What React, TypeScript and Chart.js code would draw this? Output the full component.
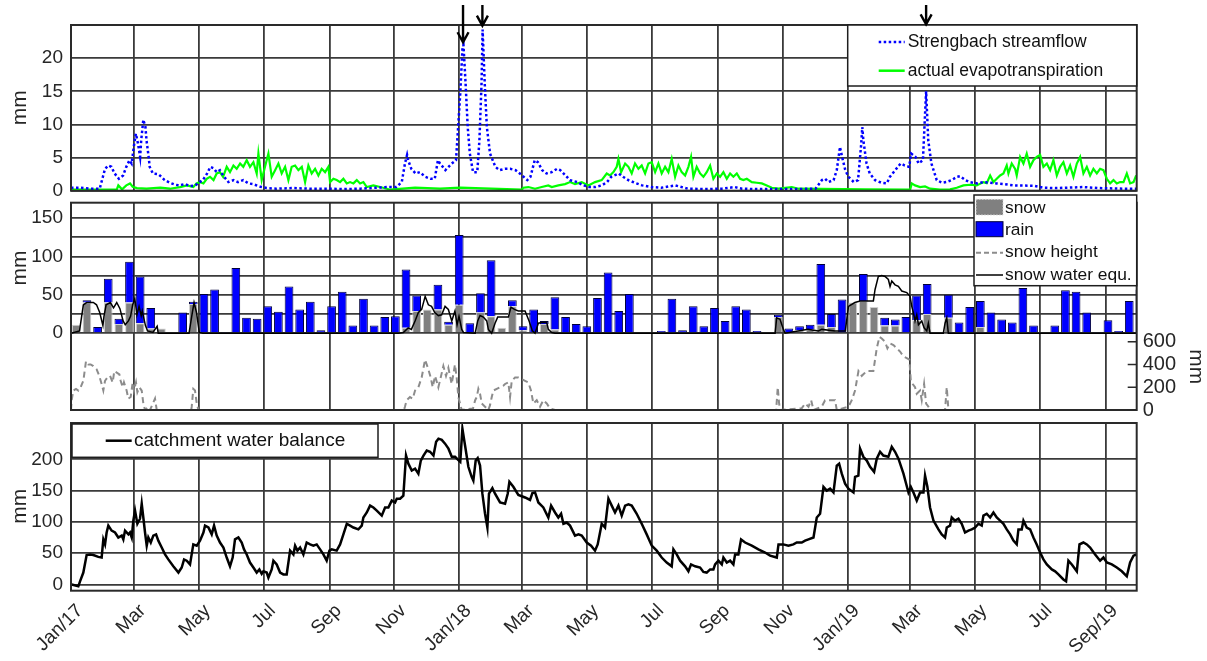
import React, { useEffect, useRef } from 'react';
import { Chart, registerables } from 'chart.js';

Chart.register(...registerables);

const FONT = '"Liberation Sans", Arial, Helvetica, sans-serif';
const GRID = '#3a3a3a';
const TEXT = '#262626';
const X_MAX = 1002; // days after 1 Jan 2017

// ---- x axis ticks (every second month) ----
const tickMonths: [number, number][] = [
  [2017, 0], [2017, 2], [2017, 4], [2017, 6], [2017, 8], [2017, 10],
  [2018, 0], [2018, 2], [2018, 4], [2018, 6], [2018, 8], [2018, 10],
  [2019, 0], [2019, 2], [2019, 4], [2019, 6], [2019, 8],
];
const tickLabels = ['Jan/17', 'Mar', 'May', 'Jul', 'Sep', 'Nov', 'Jan/18', 'Mar', 'May', 'Jul', 'Sep', 'Nov', 'Jan/19', 'Mar', 'May', 'Jul', 'Sep/19'];
const T0 = Date.UTC(2017, 0, 1);
const tickDays = tickMonths.map(([y, m]) => (Date.UTC(y, m, 1) - T0) / 86400000);

// ---- top panel: [day, mm] ----
const streamflow: [number, number][] = [
  [0, 0.45], [8, 0.45], [18, 0.3], [27, 0.3], [30, 2.1], [32, 3.3], [35, 3.8], [38, 3.6], [41, 2.6], [45, 1.8], [49, 2.3], [52, 3.6], [55, 4.6], [57, 4.1], [59, 6.6], [61, 8.6], [63, 7.1], [65, 5.1], [66, 7.6], [68, 10.7], [70, 9.6], [71, 7.6], [73, 5.1], [74, 3.6], [77, 2.6], [82, 2.5], [85, 2.1], [88, 1.6], [93, 1.2], [98, 0.9], [102, 0.8], [107, 1.0], [112, 0.7], [117, 0.8], [121, 1.3], [124, 1.6], [128, 2.6], [131, 3.6], [134, 3.4], [137, 2.8], [140, 3.1], [143, 2.3], [148, 1.3], [153, 1.6], [157, 1.3], [162, 1.6], [167, 1.1], [171, 1.0], [178, 0.6], [184, 0.4], [193, 0.3], [209, 0.4], [225, 0.3], [240, 0.3], [256, 0.25], [272, 0.3], [287, 0.45], [298, 0.55], [306, 0.55], [311, 1.3], [314, 4.1], [316, 5.4], [317, 4.6], [320, 3.3], [324, 2.6], [328, 2.8], [333, 2.1], [338, 1.8], [342, 1.8], [345, 4.6], [347, 4.1], [352, 3.1], [355, 3.6], [358, 4.1], [362, 4.6], [364, 9.6], [366, 14.7], [368, 21.3], [369, 22], [371, 16.2], [373, 9.6], [375, 5.6], [378, 2.8], [382, 2.8], [384, 7.6], [386, 16.2], [387, 24.3], [389, 16.2], [391, 9.6], [394, 5.6], [399, 3.6], [403, 3.1], [408, 3.3], [413, 3.3], [418, 3.1], [422, 2.6], [429, 1.6], [432, 2.1], [436, 4.6], [439, 4.3], [443, 3.1], [447, 2.6], [452, 2.8], [457, 3.3], [460, 3.1], [465, 2.3], [469, 1.6], [476, 1.3], [482, 0.8], [487, 0.55], [493, 0.55], [499, 0.8], [504, 1.3], [508, 2.1], [515, 2.6], [519, 2.1], [524, 1.6], [530, 1.2], [537, 0.8], [546, 0.55], [555, 0.45], [568, 0.8], [580, 0.3], [596, 0.25], [612, 0.3], [624, 0.55], [631, 0.3], [643, 0.25], [675, 0.25], [700, 0.3], [706, 1.6], [709, 1.8], [712, 1.3], [717, 1.6], [720, 3.1], [723, 6.6], [725, 5.1], [728, 3.1], [731, 2.1], [736, 1.3], [740, 1.6], [743, 7.1], [744, 9.6], [745, 7.6], [748, 4.1], [751, 2.6], [756, 1.6], [762, 1.2], [767, 1.1], [770, 2.1], [775, 3.1], [780, 4.1], [784, 3.8], [788, 3.6], [790, 5.6], [794, 5.1], [797, 4.1], [801, 4.6], [804, 15], [806, 7.6], [809, 4.1], [814, 1.6], [819, 1.2], [823, 1.3], [828, 1.6], [833, 2.1], [836, 2.2], [841, 1.6], [845, 1.3], [852, 1.1], [858, 1.3], [870, 1.1], [877, 1.0], [886, 0.8], [905, 0.75], [914, 0.45], [927, 0.4], [952, 0.55], [965, 0.4], [990, 0.3], [1002, 0.3],
];
const evapotranspiration: [number, number][] = [
  [0, 0.15], [43, 0.15], [44.5, 0.8], [48, 0.2], [52, 0.8], [55.5, 1.1], [58, 0.6], [62, 0.4], [71, 0.3], [84, 0.45], [93, 0.3], [102.5, 0.55], [109, 0.8], [115, 0.55], [118, 1.1], [121, 1.3], [124.5, 1.1], [127.6, 1.8], [130.7, 2.1], [134, 1.6], [137, 2.6], [140, 2.8], [143, 2.1], [146.4, 3.6], [149.5, 2.8], [152.7, 3.8], [155.8, 3.3], [159, 4.1], [162, 3.6], [165.2, 4.6], [168.3, 3.6], [171.5, 4.3], [174.6, 2.6], [176.2, 5.6], [179.3, 1.6], [182.4, 3.6], [185.6, 5.6], [188.7, 2.1], [191.9, 3.1], [195, 4.1], [198.1, 2.6], [201.3, 3.6], [204.4, 1.6], [207.5, 3.6], [210.7, 3.8], [213.8, 3.1], [217, 3.6], [220.1, 1.3], [223.2, 3.8], [226.3, 2.6], [229.5, 3.3], [232.6, 2.3], [235.7, 3.3], [238.9, 2.8], [242, 3.6], [243.6, 1.3], [246.7, 1.8], [249.8, 1.6], [253, 1.3], [256.1, 1.8], [259.3, 1.1], [262.4, 1.3], [265.5, 1.1], [268.7, 1.6], [271.8, 1.1], [274.9, 1.3], [278.1, 0.55], [284.3, 0.8], [290.6, 0.55], [297, 0.3], [300, 0.15], [323.5, 0.45], [347, 0.3], [366, 0.45], [424, 0.15], [425.3, 0.45], [430, 0.55], [436.3, 0.3], [442.6, 0.55], [448.8, 0.8], [452, 0.55], [458.2, 0.8], [464.5, 1.0], [469.2, 1.3], [473.9, 1.0], [480.2, 1.3], [486.5, 0.8], [492.7, 1.3], [499, 1.6], [503.7, 2.6], [506.8, 2.3], [510, 2.8], [513.1, 3.6], [514.7, 4.8], [517.2, 2.8], [521, 4.1], [524.1, 3.6], [527.2, 2.6], [530.3, 4.1], [533.5, 3.3], [536.6, 3.8], [539.8, 2.6], [542.9, 4.1], [546, 4.3], [549.2, 2.8], [552.3, 4.1], [555.4, 2.6], [558.6, 3.6], [561.7, 2.8], [564.8, 4.8], [568, 2.1], [571.1, 3.8], [574.2, 2.8], [577.4, 2.3], [580.5, 3.6], [583, 5.1], [585.2, 2.1], [588.3, 3.6], [591.5, 2.6], [594.6, 2.1], [597.7, 2.8], [600.9, 3.8], [604, 1.8], [607.2, 2.6], [610.3, 2.1], [613.4, 2.8], [616.6, 1.8], [619.7, 2.6], [622.8, 2.1], [626, 2.6], [629.1, 1.8], [632.2, 1.6], [635.4, 1.8], [640.1, 1.3], [644.8, 1.2], [649.5, 1.1], [654.2, 0.8], [658.9, 0.45], [665.2, 0.3], [677.7, 0.55], [684, 0.3], [747, 0.2], [789, 0.15], [790.5, 1.1], [793.6, 0.8], [798.3, 0.55], [803, 0.65], [807.7, 0.3], [817, 0.15], [826.5, 0.2], [832.8, 0.45], [839.1, 0.8], [845.4, 0.9], [851.6, 0.8], [857.9, 1.3], [861, 1.15], [864.2, 2.3], [867.3, 1.3], [870.4, 1.8], [873.6, 2.3], [876.7, 2.6], [879.8, 3.8], [881.4, 2.6], [884.5, 4.1], [887.7, 3.3], [889.2, 2.3], [892.4, 5.1], [895.5, 4.1], [898.6, 5.6], [901.8, 3.6], [904.9, 4.6], [908, 5.1], [911.2, 5.4], [914.3, 3.6], [917.5, 4.1], [920.6, 3.1], [923.7, 4.6], [926.9, 2.3], [930, 3.6], [933.1, 4.3], [936.3, 2.6], [939.4, 3.8], [942.5, 2.1], [945.7, 4.1], [948.8, 5.1], [951.9, 2.6], [955.1, 3.6], [958.2, 2.3], [961.3, 3.3], [964.5, 2.6], [967.6, 3.3], [970.7, 3.1], [973.9, 1.8], [977, 1.1], [980.2, 1.6], [983.3, 1.1], [986.4, 1.3], [989.6, 1.3], [992.7, 2.6], [995.8, 1.1], [999, 1.3], [1001.5, 2.3],
];
// peaks marked with arrows
const arrowDays = [368.6, 386.8, 804];
const arrowTipMm = [22.4, 24.9, 25.1];

// ---- middle panel: 10-day precipitation sums (mm) ----
const snow = [
  11, 40, 0, 40, 12, 40, 13, 6, 6, 0,
  0, 38, 0, 0, 0, 0, 0, 0, 0, 0,
  0, 0, 0, 0, 0, 0, 0, 0, 0, 0,
  0, 7, 29, 31, 31, 11, 37, 0, 27, 22,
  7, 35, 4, 0, 12, 5, 0, 0, 0, 0,
  0, 0, 0, 0, 0, 0, 0, 0, 0, 0,
  0, 0, 0, 0, 0, 0, 21, 0, 4, 5,
  11, 8, 0, 40, 42, 34, 10, 10, 0, 17,
  25, 0, 20, 0, 0, 8, 0, 0, 0, 0,
  0, 0, 0, 0, 0, 0, 0, 0, 0, 0,
  0,
];
const rain = [
  0, 3, 8, 31, 7, 53, 61, 27, 0, 0,
  27, 3, 51, 57, 1, 85, 20, 19, 35, 28,
  61, 31, 41, 4, 35, 54, 10, 45, 10, 21,
  22, 76, 20, 0, 32, 4, 91, 13, 25, 73,
  0, 8, 5, 31, 4, 42, 21, 12, 9, 46,
  79, 29, 51, 0, 0, 3, 45, 4, 35, 9,
  33, 16, 35, 31, 3, 0, 3, 6, 5, 6,
  79, 17, 44, 0, 35, 0, 10, 8, 21, 32,
  39, 0, 30, 14, 34, 34, 27, 18, 14, 59,
  10, 0, 10, 56, 54, 27, 1, 17, 3, 42,
  57,
];
const periodMid = rain.map((_, i) => i * 10 + 5); // centre day of each 10-day period

const snowWaterEqu: [number, number][] = [
  [0, 0], [8, 3], [11.6, 37], [14.7, 40], [21, 40], [24, 37], [27, 27], [30, 10], [31, 22], [33, 37], [37, 40], [40, 33], [43, 40], [46, 32], [49, 16], [51, 11], [54, 16], [56, 22], [58, 37], [60, 45], [62, 24], [64, 35], [66, 23], [67, 29], [70, 10], [72, 3], [77, 1], [81, 9], [82, 0], [111, 0], [113.5, 22], [115.7, 40], [118, 27], [120.6, 1], [124, 0], [308, 0], [312.5, 1], [317, 7], [320, 5], [323.5, 16], [326.6, 27], [329.7, 31], [333, 48], [336, 37], [339, 35], [342, 27], [345.4, 23], [348.5, 24], [351.7, 35], [354.8, 31], [358, 16], [361, 29], [363, 11], [364.8, 22], [367.4, 5], [369, 1], [380, 0], [382.4, 16], [384.6, 23], [387.7, 21], [390.9, 16], [392.4, 5], [395.5, 0], [398.7, 13], [401.2, 21], [411.2, 21], [413.7, 34], [416.9, 31], [420.6, 29], [426.9, 29], [430.7, 16], [433.8, 3], [436.3, 0], [439.4, 13], [442.6, 14], [447.3, 14], [448.8, 5], [452, 1], [455, 0], [662, 0], [663.5, 20], [666.7, 18], [669.8, 5], [671.4, 0], [693, 5], [702.7, 3], [705.9, 5], [718.4, 3], [728, 3], [731, 35], [737, 40], [741.9, 42], [748.2, 42], [754.4, 42], [756, 57], [759.1, 74], [762.3, 75], [765.4, 74], [768.5, 70], [770.1, 61], [771.7, 68], [774.8, 63], [777.9, 61], [781.1, 55], [785.8, 53], [788.9, 48], [790.5, 35], [792, 27], [793.6, 16], [795.2, 24], [796.8, 11], [799.9, 16], [802.1, 7], [804.6, 3], [806.1, 13], [807.7, 0], [820.2, 0], [821.8, 13], [823.4, 20], [824.9, 0], [1002, 0],
];
const snowHeight: [number, number][] = [
  [0, 0], [0.6, 86], [2.2, 171], [4.7, 186], [6.9, 171], [9.1, 200], [11.6, 257], [14.1, 429], [16.3, 400], [18.5, 400], [21, 386], [24.1, 357], [26.6, 300], [28.8, 229], [30.4, 171], [32, 257], [34.2, 286], [36.7, 300], [39.2, 243], [40.7, 343], [43, 329], [45.5, 314], [46.7, 257], [48.6, 200], [49.8, 243], [52.3, 171], [53.9, 100], [56.1, 114], [58, 243], [59.2, 171], [61.1, 243], [62.4, 157], [64.3, 200], [66.5, 171], [68, 57], [69.6, 0], [72.7, 29], [74.3, 0], [79, 100], [80.6, 0], [113, 0], [113.5, 29], [115, 186], [116.6, 171], [118.2, 57], [119.8, 0],
  [313, 0], [314, 29], [315.6, 86], [318.7, 114], [321.3, 100], [323.5, 171], [326.6, 200], [329.7, 286], [332.9, 443], [336, 357], [338.2, 286], [340.1, 200], [342.3, 300], [345.4, 200], [347.6, 286], [350.1, 386], [352.6, 300], [354.8, 371], [357.9, 229], [359.5, 314], [361, 400], [362.6, 286], [364.2, 114], [365.8, 57], [367.3, 0],
  [378, 14], [380, 86], [381.5, 114], [383, 186], [384.6, 143], [386.2, 57], [389.3, 29], [392.4, 0], [394, 43], [395.6, 114], [397.1, 171], [400.3, 186], [403.4, 200], [406.5, 214], [408.1, 229], [411.2, 243], [412.8, 114], [414.4, 257], [417.5, 286], [420.6, 286], [423.8, 271], [426.9, 257], [430, 243], [432.5, 171], [434.7, 57], [437.9, 86], [441, 29], [444.1, 86], [447.3, 57], [450.4, 14], [455, 0],
  [663, 0], [664.5, 200], [665.8, 57], [666.7, 0], [687, 14], [690.2, 57], [693.4, 29], [695.9, 86], [698.1, 0], [705.9, 29], [709, 86], [712.2, 86], [718.4, 86], [720, 0], [731, 29], [734.1, 86], [737.2, 171], [740.4, 343], [743.5, 300], [745, 314], [748.2, 343], [754.4, 343], [757.6, 543], [760.1, 643], [762.3, 629], [765.4, 600], [767.6, 543], [770.1, 586], [773.3, 571], [776.4, 543], [779.5, 514], [782.7, 471], [785.8, 457], [788.3, 443], [789.6, 257], [791.4, 229], [793.6, 200], [795.2, 143], [798.3, 171], [799.9, 86], [802.1, 229], [804, 57], [806.2, 29], [807.7, 0], [821.8, 0], [823.4, 200], [825, 0], [1002, 0],
];

// ---- bottom panel: catchment water balance [day, mm] ----
const waterBalance: [number, number][] = [
  [0.6, 0], [6.9, -3], [8.5, 5], [11.6, 19], [14.7, 47], [17.9, 48], [21, 47], [25.7, 44], [28.8, 43], [30.4, 72], [32, 64], [33.5, 83], [35.1, 94], [38.2, 86], [41.4, 83], [44.5, 75], [47.7, 78], [49.2, 72], [50.8, 86], [54, 80], [55.5, 83], [57.1, 75], [58.6, 102], [60.2, 118], [62.4, 97], [64.9, 105], [66.5, 129], [68, 107], [69.6, 83], [71.2, 62], [72.7, 75], [75, 67], [77.4, 78], [80, 80], [82.1, 70], [85.3, 59], [88.4, 48], [91.5, 40], [96.2, 29], [101, 19], [104.1, 27], [106.3, 40], [108.8, 38], [111.9, 32], [115, 64], [118.2, 62], [121.3, 70], [124.5, 83], [126, 94], [129.2, 91], [132.3, 80], [134.5, 94], [137, 78], [140.1, 67], [143.3, 59], [146.4, 43], [149.5, 29], [152, 43], [154.2, 72], [157.4, 75], [160.5, 67], [162.7, 56], [165.2, 48], [168.3, 35], [171.5, 27], [174.6, 19], [177.1, 24], [179.3, 17], [180.9, 21], [184, 19], [185.6, 11], [188.7, 24], [190.3, 38], [193.4, 32], [196.6, 19], [199.7, 16], [202.8, 16], [206, 54], [209.1, 48], [210.7, 62], [212.9, 54], [215.4, 59], [218.5, 48], [221.6, 67], [224.8, 64], [227.9, 62], [231, 64], [234.2, 56], [237.3, 48], [240.4, 38], [243, 54], [245.1, 56], [249.8, 54], [253, 64], [256.1, 80], [259.3, 97], [262.4, 94], [265.5, 91], [270.2, 88], [273.4, 94], [274.9, 107], [278.1, 115], [281.2, 126], [284.3, 123], [287.5, 118], [292.2, 110], [295.3, 123], [298.4, 123], [301.6, 134], [304.7, 131], [306.3, 137], [309.4, 137], [312.5, 142], [315, 206], [317.2, 193], [320.4, 182], [323.5, 185], [326.6, 177], [328.9, 198], [331.4, 206], [334.5, 214], [337.6, 212], [340.8, 206], [343.3, 228], [345.5, 233], [348.6, 231], [351.7, 225], [354.9, 217], [358, 204], [361.1, 204], [364, 199], [366, 196], [368, 249], [370.5, 222], [373.6, 188], [376.7, 172], [378.3, 166], [380.5, 198], [382.4, 202], [384.6, 190], [386.8, 145], [389.3, 113], [391.5, 91], [393, 145], [396.2, 154], [398.7, 145], [403.4, 131], [408.1, 129], [410.6, 145], [412.2, 164], [415.9, 156], [420.6, 143], [426.9, 139], [431.6, 135], [433.8, 146], [436.3, 147], [439.4, 131], [444.1, 123], [448.8, 107], [451.4, 126], [455.1, 115], [458.2, 107], [460.8, 113], [463, 97], [466.1, 99], [469.2, 94], [473.9, 78], [477.1, 80], [480.2, 78], [484.9, 67], [489, 62], [492.7, 54], [495.2, 64], [497.4, 83], [499, 97], [502.1, 91], [505.3, 137], [508.4, 126], [511.5, 115], [514.7, 126], [517.8, 110], [521, 126], [524.1, 128], [527.2, 126], [531.9, 113], [536.6, 97], [541.3, 80], [546, 62], [550.7, 54], [555.4, 43], [560.1, 35], [564.8, 29], [566.4, 56], [569.5, 48], [572.7, 38], [577.4, 29], [580.5, 21], [583, 32], [586.8, 29], [591.5, 27], [594.6, 20], [597.7, 19], [600.9, 24], [604, 24], [605.6, 32], [608.7, 38], [611.9, 32], [613.4, 43], [616.6, 35], [619.7, 38], [622.8, 32], [624.4, 48], [627.5, 48], [630, 72], [633.8, 67], [640.1, 62], [646.3, 56], [652.6, 51], [657.3, 46], [663.6, 43], [665.2, 64], [669.8, 64], [674.5, 62], [679.2, 64], [682.4, 67], [687.1, 67], [690.2, 70], [693.4, 72], [698.1, 75], [701.2, 107], [704.3, 113], [707.5, 156], [710.6, 150], [713.7, 153], [716.9, 147], [720, 190], [722.2, 193], [724.7, 177], [727.8, 161], [731, 153], [735.7, 147], [737.2, 172], [740.3, 174], [741.9, 217], [745, 204], [748.2, 198], [751.3, 188], [755.1, 180], [757.6, 201], [760.7, 212], [763.8, 206], [768.5, 204], [771.7, 220], [774.8, 212], [778, 201], [782.7, 177], [787.4, 147], [789.6, 156], [792.1, 147], [795.2, 134], [798.3, 147], [801.5, 147], [803, 174], [805.2, 156], [807.7, 123], [810.9, 102], [815.6, 88], [818.7, 80], [821.8, 75], [823.4, 91], [826.5, 94], [828.1, 107], [831.2, 102], [834.4, 105], [837.5, 97], [840.6, 83], [843.8, 86], [846.9, 88], [850.1, 91], [853.2, 97], [856.3, 94], [857.9, 110], [861, 113], [864.2, 107], [867.3, 115], [870.4, 107], [873.6, 102], [876.7, 97], [879.8, 88], [883, 80], [886.1, 70], [889.2, 64], [890.8, 88], [893.9, 88], [895.5, 102], [898.6, 91], [901.8, 88], [904.9, 75], [908, 64], [911.2, 51], [914.3, 40], [917.5, 32], [922.2, 24], [925.3, 21], [928.4, 16], [933.1, 8], [935.6, 5], [937.8, 38], [941, 32], [945.7, 21], [948.2, 64], [951.9, 67], [955.1, 64], [958.2, 59], [962.9, 48], [967.6, 38], [970.7, 43], [973.9, 35], [978.6, 32], [983.3, 27], [988, 21], [992.7, 13], [995.8, 35], [999, 46], [1002, 48],
];

// ---------------- helpers ----------------
const TICK_SIZE = 19;
const TITLE_X = 20;
const toXY = (pairs: [number, number][]) => pairs.map(([x, y]) => ({ x, y }));

function xScale(showLabels: boolean) {
  return {
    type: 'linear',
    min: 0,
    max: X_MAX,
    offset: false,
    stacked: true,
    afterBuildTicks: (s: any) => { s.ticks = tickDays.map((v) => ({ value: v })); },
    grid: { color: GRID, lineWidth: 1.8, drawTicks: false, offset: false },
    border: { display: false },
    ticks: showLabels
      ? {
          display: true, autoSkip: false, minRotation: 45, maxRotation: 45, padding: 9, labelOffset: 9,
          color: TEXT, font: { size: 19, family: FONT },
          callback: (_v: any, i: number) => tickLabels[i],
        }
      : { display: false },
    afterFit: (s: any) => {
      s.height = showLabels ? 70.3 : 0;
      s.paddingLeft = 0; s.paddingRight = 0;
    },
  };
}

function yScale(min: number, max: number, gridVals: number[], labelVals: number[], extra: any = {}) {
  return {
    type: 'linear',
    position: 'left',
    min, max,
    afterBuildTicks: (s: any) => { s.ticks = gridVals.map((v) => ({ value: v })); },
    grid: { color: GRID, lineWidth: 1.8, drawTicks: false },
    border: { display: false },
    ticks: {
      padding: 8, color: TEXT, font: { size: TICK_SIZE, family: FONT },
      callback: (v: any) => (labelVals.includes(v) ? String(v) : ''),
    },
    afterFit: (s: any) => { s.width = 71; s.paddingTop = 0; s.paddingBottom = 0; },
    ...extra,
  };
}

function rotText(ctx: CanvasRenderingContext2D, text: string, x: number, y: number, rot: number, size: number) {
  ctx.save();
  ctx.translate(x, y);
  ctx.rotate(rot);
  ctx.font = `${size}px ${FONT}`;
  ctx.textAlign = 'center';
  ctx.textBaseline = 'middle';
  ctx.fillStyle = TEXT;
  ctx.fillText(text, 0, 0);
  ctx.restore();
}

function legendText(ctx: CanvasRenderingContext2D, text: string, x: number, y: number, size: number) {
  ctx.font = `${size}px ${FONT}`;
  ctx.textAlign = 'left';
  ctx.textBaseline = 'middle';
  ctx.fillStyle = '#111';
  ctx.fillText(text, x, y);
}

function box(ctx: CanvasRenderingContext2D, x0: number, y0: number, x1: number, y1: number) {
  ctx.fillStyle = '#fff';
  ctx.fillRect(x0, y0, x1 - x0, y1 - y0);
  ctx.strokeStyle = '#1e1e1e';
  ctx.lineWidth = 1.5;
  ctx.strokeRect(x0, y0, x1 - x0, y1 - y0);
}

function seg(ctx: CanvasRenderingContext2D, x0: number, x1: number, y: number, color: string, width: number, dash: number[]) {
  ctx.save();
  ctx.strokeStyle = color;
  ctx.lineWidth = width;
  ctx.setLineDash(dash);
  ctx.beginPath();
  ctx.moveTo(x0, y);
  ctx.lineTo(x1, y);
  ctx.stroke();
  ctx.restore();
}

const framePlugin = {
  id: 'frame',
  afterDatasetsDraw(chart: any) {
    const { ctx, chartArea: a } = chart;
    ctx.save();
    ctx.strokeStyle = '#2a2a2a';
    ctx.lineWidth = 2;
    ctx.strokeRect(a.left, a.top, a.right - a.left, a.bottom - a.top);
    ctx.restore();
  },
};

const topDecor = {
  id: 'topDecor',
  afterDraw(chart: any) {
    const { ctx, chartArea: a, scales } = chart;
    ctx.save();
    rotText(ctx, 'mm', TITLE_X, (a.top + a.bottom) / 2, -Math.PI / 2, 21);
    // legend
    box(ctx, a.right - 289, a.top, a.right, a.top + 61);
    seg(ctx, a.right - 258, a.right - 232, a.top + 17, '#0000ff', 2.5, [2.5, 2.5]);
    legendText(ctx, 'Strengbach streamflow', a.right - 229, a.top + 17, 17.5);
    seg(ctx, a.right - 258, a.right - 232, a.top + 45.7, '#00ff00', 2.5, []);
    legendText(ctx, 'actual evapotranspiration', a.right - 229, a.top + 45.7, 17.5);
    // arrows
    ctx.strokeStyle = '#000';
    ctx.lineWidth = 2.4;
    arrowDays.forEach((d, i) => {
      const x = scales.x.getPixelForValue(d);
      const tip = scales.y.getPixelForValue(arrowTipMm[i]);
      ctx.beginPath();
      ctx.moveTo(x, 5);
      ctx.lineTo(x, tip);
      ctx.moveTo(x - 5.5, tip - 10);
      ctx.lineTo(x, tip);
      ctx.lineTo(x + 5.5, tip - 10);
      ctx.stroke();
    });
    ctx.restore();
  },
};

const midDecor = {
  id: 'midDecor',
  afterDraw(chart: any) {
    const { ctx, chartArea: a, scales } = chart;
    ctx.save();
    rotText(ctx, 'mm', TITLE_X, scales.y.getPixelForValue(85), -Math.PI / 2, 21);
    rotText(ctx, 'mm', 1196, scales.y2.getPixelForValue(380), Math.PI / 2, 21);
    // inward ticks of the right axis
    ctx.strokeStyle = '#2a2a2a';
    ctx.lineWidth = 1.5;
    [0, 200, 400, 600].forEach((v) => {
      const y = scales.y2.getPixelForValue(v);
      ctx.beginPath();
      ctx.moveTo(a.right - 9, y);
      ctx.lineTo(a.right, y);
      ctx.stroke();
    });
    // legend
    const x0 = a.right - 162.7;
    box(ctx, x0, 3, a.right, 93.7);
    ctx.fillStyle = '#808080';
    ctx.fillRect(x0 + 2, 7.3, 27, 15.7);
    ctx.save();
    ctx.strokeStyle = '#d8d8d8';
    ctx.setLineDash([1.5, 1.5]);
    ctx.lineWidth = 1;
    ctx.strokeRect(x0 + 2, 7.3, 27, 15.7);
    ctx.restore();
    ctx.fillStyle = '#0000ff';
    ctx.fillRect(x0 + 2, 29.7, 27, 15);
    ctx.strokeStyle = '#00003a';
    ctx.lineWidth = 1;
    ctx.strokeRect(x0 + 2, 29.7, 27, 15);
    seg(ctx, x0 + 2, x0 + 29, 60.7, '#8c8c8c', 2, [5, 3]);
    seg(ctx, x0 + 2, x0 + 29, 83, '#000', 1.5, []);
    legendText(ctx, 'snow', x0 + 31, 16, 17.4);
    legendText(ctx, 'rain', x0 + 31, 38.7, 17.4);
    legendText(ctx, 'snow height', x0 + 31, 60.7, 17.4);
    legendText(ctx, 'snow water equ.', x0 + 31, 83, 17.4);
    ctx.restore();
  },
};

const botDecor = {
  id: 'botDecor',
  afterDraw(chart: any) {
    const { ctx, chartArea: a, scales } = chart;
    ctx.save();
    rotText(ctx, 'mm', TITLE_X, scales.y.getPixelForValue(125), -Math.PI / 2, 21);
    box(ctx, a.left + 1, a.top + 1, a.left + 307, a.top + 34.3);
    seg(ctx, a.left + 34.7, a.left + 60.7, a.top + 17.7, '#000', 2.5, []);
    legendText(ctx, 'catchment water balance', a.left + 63, a.top + 17.7, 19);
    ctx.restore();
  },
};

const baseOptions = (padding: any) => ({
  animation: false,
  responsive: false,
  devicePixelRatio: 1,
  layout: { padding },
  plugins: { legend: { display: false }, tooltip: { enabled: false } },
  elements: { point: { radius: 0 }, line: { tension: 0 } },
});

const topConfig = (): any => ({
  type: 'line',
  data: {
    datasets: [
      { label: 'Strengbach streamflow', data: toXY(streamflow), borderColor: '#0000ff', borderWidth: 2.5, borderDash: [2.5, 2.5], pointRadius: 0 },
      { label: 'actual evapotranspiration', data: toXY(evapotranspiration), borderColor: '#00ff00', borderWidth: 2.2, pointRadius: 0 },
    ],
  },
  options: {
    ...baseOptions({ top: 25, right: 70.3, bottom: 9.3, left: 0 }),
    scales: { x: xScale(false), y: yScale(0, 25, [0, 5, 10, 15, 20], [0, 5, 10, 15, 20]) },
  },
  plugins: [framePlugin, topDecor],
});

const midConfig = (): any => ({
  type: 'bar',
  data: {
    datasets: [
      { type: 'line', label: 'snow water equ.', data: toXY(snowWaterEqu), borderColor: '#000', borderWidth: 1.5, pointRadius: 0, yAxisID: 'y', stack: 'swe', order: 0 },
      { type: 'line', label: 'snow height', data: toXY(snowHeight), borderColor: '#8c8c8c', borderWidth: 2, borderDash: [6, 4], pointRadius: 0, yAxisID: 'y2', order: 1 },
      { type: 'bar', label: 'snow', data: snow.map((v, i) => ({ x: periodMid[i], y: v })), backgroundColor: '#808080', borderColor: '#cfcfcf', borderWidth: 1, barPercentage: 0.82, categoryPercentage: 1, yAxisID: 'y', stack: 'precip', order: 2 },
      { type: 'bar', label: 'rain', data: rain.map((v, i) => ({ x: periodMid[i], y: v })), backgroundColor: '#0000ff', borderColor: '#00003a', borderWidth: 1, barPercentage: 0.82, categoryPercentage: 1, yAxisID: 'y', stack: 'precip', order: 2 },
    ],
  },
  options: {
    ...baseOptions({ top: 10.7, right: 0, bottom: 10, left: 0 }),
    scales: {
      x: xScale(false),
      y: yScale(-100, 170, [0, 25, 50, 75, 100, 125, 150], [0, 50, 100, 150], { stacked: true }),
      y2: {
        type: 'linear',
        position: 'right',
        min: 0,
        max: 1823,
        afterBuildTicks: (s: any) => { s.ticks = [0, 200, 400, 600].map((v) => ({ value: v })); },
        grid: { display: false, drawTicks: false },
        border: { display: false },
        ticks: { padding: 6, color: TEXT, font: { size: 20, family: FONT } },
        afterFit: (s: any) => { s.width = 70.3; s.paddingTop = 0; s.paddingBottom = 0; },
      },
    },
  },
  plugins: [framePlugin, midDecor],
});

const botConfig = (): any => ({
  type: 'line',
  data: {
    datasets: [
      { label: 'catchment water balance', data: toXY(waterBalance), borderColor: '#000', borderWidth: 2.5, pointRadius: 0 },
    ],
  },
  options: {
    ...baseOptions({ top: 8, right: 70.3, bottom: 0, left: 0 }),
    scales: { x: xScale(true), y: yScale(-10, 258, [0, 50, 100, 150, 200], [0, 50, 100, 150, 200]) },
  },
  plugins: [framePlugin, botDecor],
});

function Panel({ top, height, makeConfig }: { top: number; height: number; makeConfig: () => any }) {
  const ref = useRef<HTMLCanvasElement>(null);
  useEffect(() => {
    Chart.defaults.font.family = FONT;
    const chart = new Chart(ref.current as HTMLCanvasElement, makeConfig());
    return () => chart.destroy();
  }, []);
  return (
    <canvas
      ref={ref}
      width={1207}
      height={height}
      style={{ position: 'absolute', left: 0, top, width: 1207, height }}
    />
  );
}

export default function App() {
  return (
    <div style={{ position: 'absolute', left: 0, top: 0, width: 1207, height: 661, background: '#fff', overflow: 'hidden' }}>
      <Panel top={0} height={200} makeConfig={topConfig} />
      <Panel top={192} height={228} makeConfig={midConfig} />
      <Panel top={415} height={246} makeConfig={botConfig} />
    </div>
  );
}
